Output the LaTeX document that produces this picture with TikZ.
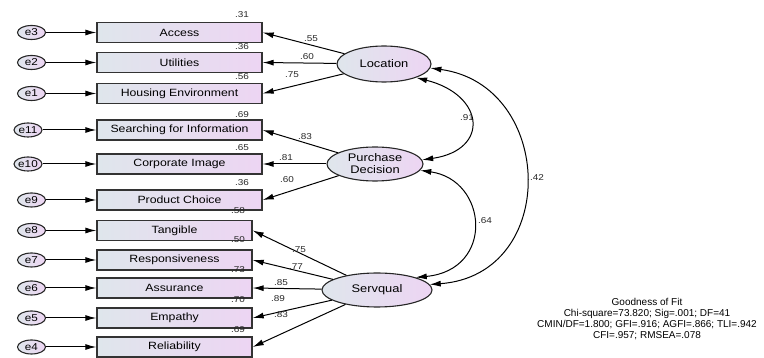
\documentclass[tikz,border=0pt]{standalone}
\usepackage{fontspec}
\setmainfont{Liberation Sans}[FakeStretch=1.17]
\newfontfamily\goffont{Liberation Sans}
\usetikzlibrary{arrows.meta,shapes.geometric}
\definecolor{gl}{HTML}{DFE6EC}
\definecolor{gr}{HTML}{EDD5F3}
\tikzset{
 obs/.style={rectangle, draw=black!80, line width=1.4pt, left color=gl, right color=gr, minimum width=165pt, minimum height=20pt, inner sep=0pt, font=\fontsize{10.5}{12}\selectfont},
 obsS/.style={obs, minimum width=155pt},
 err/.style={ellipse, draw=black!85, line width=1.1pt, left color=gl, right color=gr, minimum width=28pt, minimum height=14pt, inner sep=0pt, font=\fontsize{10}{11}\selectfont},
 lat/.style={ellipse, draw=black!85, line width=1.1pt, left color=gl, right color=gr, inner sep=0pt, align=center, font=\fontsize{11}{12}\selectfont},
 arr/.style={-{Latex[length=11pt,width=6pt]}, line width=1pt},
 darr/.style={{Latex[length=11pt,width=6pt]}-{Latex[length=11pt,width=6pt]}, line width=1pt},
 num/.style={font=\fontsize{8.5}{9}\selectfont, inner sep=0pt, text=black!85},
}
\begin{document}
\begin{tikzpicture}[x=1pt,y=-1pt]
\useasboundingbox (0,0) rectangle (764,358);
% observed
\node[obs] (acc) at (179.5,32.5) {Access};
\node[obs] (uti) at (179.5,62.5) {Utilities};
\node[obs] (hou) at (179.5,93.5) {Housing Environment};
\node[obs] (sea) at (179.5,130) {Searching for Information};
\node[obs] (cor) at (179.5,164) {Corporate Image};
\node[obs] (pro) at (179.5,200) {Product Choice};
\node[obsS] (tan) at (174.5,230.5) {Tangible};
\node[obsS] (res) at (174.5,260) {Responsiveness};
\node[obsS] (ass) at (174.5,288) {Assurance};
\node[obsS] (emp) at (174.5,318) {Empathy};
\node[obsS] (rel) at (174.5,347) {Reliability};
% errors
\node[err] (e3) at (31.5,32.5) {e3};
\node[err] (e2) at (31.5,62.5) {e2};
\node[err] (e1) at (31.5,93.5) {e1};
\node[err] (e11) at (28,130) {e11};
\node[err] (e10) at (28,164) {e10};
\node[err] (e9) at (31.5,200) {e9};
\node[err] (e8) at (31.5,230.5) {e8};
\node[err] (e7) at (31.5,260) {e7};
\node[err] (e6) at (31.5,288) {e6};
\node[err] (e5) at (31.5,318) {e5};
\node[err] (e4) at (31.5,347) {e4};
\foreach \e/\b in {e3/acc,e2/uti,e1/hou,e11/sea,e10/cor,e9/pro,e8/tan,e7/res,e6/ass,e5/emp,e4/rel}
  \draw[arr] (\e.east) -- (\b.west);
% latent
\node[lat, minimum width=94pt, minimum height=36pt] (loc) at (384,64) {Location};
\node[lat, minimum width=96pt, minimum height=34pt] (pur) at (375,164) {Purchase\\Decision};
\node[lat, minimum width=110pt, minimum height=34pt] (ser) at (377,290) {Servqual};
% loadings
\foreach \b in {acc,uti,hou} \draw[arr] (loc) -- (\b.east);
\foreach \b in {sea,cor,pro} \draw[arr] (pur) -- (\b.east);
\foreach \b in {tan,res,ass,emp,rel} \draw[arr] (ser) -- (\b.east);
% correlations
\draw[darr] (loc.-23) .. controls (485,95) and (490,150) .. (pur.5);
\draw[darr] (pur.-8) .. controls (488,180) and (495,270) .. (ser.18);
\draw[darr] (loc.-5) .. controls (555,85) and (560,275) .. (ser.6);
% loading labels
\node[num] (l1) at (311,39) {.55};
\node[num] (l2) at (307,57) {.60};
\node[num] (l3) at (292,75) {.75};
\node[num] (l4) at (305,137) {.83};
\node[num] (l5) at (286,158) {.81};
\node[num] (l6) at (287,180) {.60};
\node[num] (l7) at (299,250) {.75};
\node[num] (l8) at (296,267) {.77};
\node[num] (l9) at (281,283) {.85};
\node[num] (l10) at (278,299) {.89};
\node[num] (l11) at (281,315) {.83};
\node[num] (c1) at (467,118) {.91};
\node[num] (c2) at (485,221) {.64};
\node[num] (c3) at (537,178) {.42};
% squared multiple correlations
\node[num] (s1) at (242,15) {.31};
\node[num] (s2) at (242,47) {.36};
\node[num] (s3) at (242,77) {.56};
\node[num] (s4) at (242,115) {.69};
\node[num] (s5) at (242,148) {.65};
\node[num] (s6) at (242,183) {.36};
\node[num] (s7) at (238,211) {.58};
\node[num] (s8) at (238,240) {.50};
\node[num] (s9) at (238,270) {.73};
\node[num] (s10) at (238,300) {.70};
\node[num] (s11) at (238,330) {.69};
% fit
\node[align=center, inner sep=0pt, font=\goffont\fontsize{10}{11}\selectfont] (gof) at (647,319) {Goodness of Fit\\Chi-square=73.820; Sig=.001; DF=41\\CMIN/DF=1.800; GFI=.916; AGFI=.866; TLI=.942\\CFI=.957; RMSEA=.078};
\end{tikzpicture}
\end{document}
